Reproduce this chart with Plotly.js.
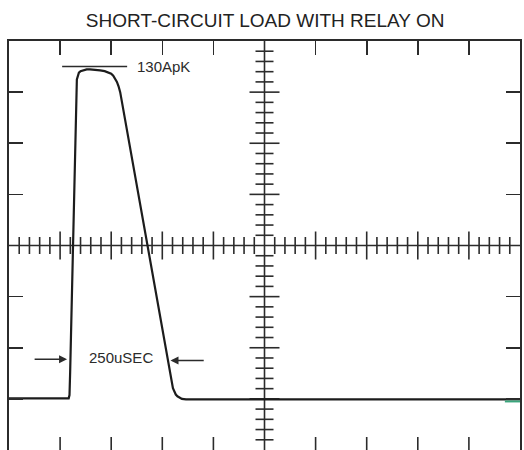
<!DOCTYPE html>
<html><head><meta charset="utf-8">
<script src="https://cdn.plot.ly/plotly-3.0.1.min.js"></script>
<style>html,body{margin:0;padding:0;background:#fff;overflow:hidden}</style>
</head><body><div id="chart" style="width:524px;height:450px"></div>
<script>
// Data (time in microseconds, current in amperes)
const timeUs   = [0, 146, 148, 149.5, 166, 168, 171, 175, 181, 190, 198, 212, 223, 234, 243, 250, 255, 260, 264, 268, 272, 401, 404, 408, 412, 417, 423, 433, 1250];
const currentA = [0.2, 0.2, 1.5, 10, 125, 126.6, 127.6, 128.2, 128.6, 128.9, 128.9, 128.8, 128.5, 128.2, 127.8, 127.2, 126.4, 125.3, 124, 122.3, 120, 4.2, 2.8, 1.7, 1, 0.4, 0, -0.2, -0.2];
const titleText = 'SHORT-CIRCUIT LOAD WITH RELAY ON';
const peakLabel = '130ApK';
const peakA = 130;
const peakMarkTime = [130, 289];
const pulseLabel = '250uSEC';
const pulseEdges = [142, 395];
const timeRange = [0, 1250];
const currentRange = [-20, 140];
const timePerDiv = 125;
const ampsPerDiv = 20;

const ink = '#2b2b2b';
const tCenter = (timeRange[0] + timeRange[1]) / 2;
const aCenter = (currentRange[0] + currentRange[1]) / 2;
const shapes = [];
function seg(o){ shapes.push(Object.assign({type:'line', layer:'below', line:{color:ink, width:1.6}}, o)); }

// center cross
seg({xref:'x', yref:'y', x0:timeRange[0], x1:timeRange[1], y0:aCenter, y1:aCenter});
seg({xref:'x', yref:'y', x0:tCenter, x1:tCenter, y0:currentRange[0], y1:currentRange[1]});
// ticks on horizontal center line
const tSub = timePerDiv / 5;
for (let t = timeRange[0] + tSub; t < timeRange[1] - 1e-6; t += tSub) {
  const major = Math.abs((t / timePerDiv) - Math.round(t / timePerDiv)) < 1e-6;
  if (Math.abs(t - tCenter) < 1e-6) continue;
  const h = major ? 14 : 8.5;
  seg({xref:'x', yref:'y', x0:t, x1:t, ysizemode:'pixel', yanchor:aCenter, y0:-h, y1:h});
}
// ticks on vertical center line
const aSub = ampsPerDiv / 5;
for (let a = currentRange[0] + aSub; a < currentRange[1] - 1e-6; a += aSub) {
  const k = (a - currentRange[0]) / ampsPerDiv;
  const major = Math.abs(k - Math.round(k)) < 1e-6;
  if (Math.abs(a - aCenter) < 1e-6) continue;
  const w = major ? 15 : 9;
  seg({xref:'x', yref:'y', y0:a, y1:a, xsizemode:'pixel', xanchor:tCenter, x0:-w, x1:w});
}
// bottom border ticks
for (let t = timeRange[0] + timePerDiv; t < timeRange[1] - 1e-6; t += timePerDiv) {
  if (Math.abs(t - tCenter) < 1e-6) continue;
  seg({xref:'x', yref:'paper', x0:t, x1:t, ysizemode:'pixel', yanchor:0, y0:0, y1:13});
}
// peak marker line
shapes.push({type:'line', xref:'x', yref:'y', x0:peakMarkTime[0], x1:peakMarkTime[1], y0:peakA, y1:peakA, line:{color:ink, width:1.6}});
// small green scan mark at right edge
shapes.push({type:'line', xref:'x', yref:'y', x0:1213, x1:1250, y0:-1, y1:-1, line:{color:'#3aa57c', width:2}});

const trace = {
  x: timeUs, y: currentA, type:'scatter', mode:'lines',
  line:{color:'#1c1c1c', width:2.2, shape:'linear'},
  hoverinfo:'skip'
};

const labelFont = {family:'"Liberation Sans", Arial, sans-serif', size:15, color:ink};
const annotations = [
  {x:308, y:peakA, xref:'x', yref:'y', text:peakLabel, showarrow:false, xanchor:'left', yanchor:'middle', font:labelFont},
  {x:274, y:16, xref:'x', yref:'y', text:pulseLabel, showarrow:false, xanchor:'center', yanchor:'middle', font:labelFont},
  {x:pulseEdges[0], y:15.5, ax:59, ay:15.5, xref:'x', yref:'y', axref:'x', ayref:'y', text:'', showarrow:true, arrowhead:2, arrowsize:1, arrowwidth:1.6, arrowcolor:ink},
  {x:pulseEdges[1], y:15, ax:480, ay:15, xref:'x', yref:'y', axref:'x', ayref:'y', text:'', showarrow:true, arrowhead:2, arrowsize:1, arrowwidth:1.6, arrowcolor:ink}
];

const layout = {
  width:524, height:450,
  margin:{l:9, r:4, t:41, b:0, pad:0},
  paper_bgcolor:'#fff', plot_bgcolor:'#fff',
  showlegend:false,
  title:{text:titleText, x:0.506, xref:'container', y:0.955, yref:'container', xanchor:'center', yanchor:'middle',
         font:{family:'"Liberation Sans", Arial, sans-serif', size:19, color:'#222'}},
  xaxis:{range:timeRange, side:'top', showline:true, linecolor:ink, linewidth:1.6,
         ticks:'inside', ticklen:14, tickwidth:1.6, tickcolor:ink, tick0:0, dtick:timePerDiv,
         showticklabels:false, showgrid:false, zeroline:false, fixedrange:true},
  yaxis:{range:currentRange, showline:true, mirror:'ticks', linecolor:ink, linewidth:1.6,
         ticks:'inside', ticklen:14, tickwidth:1.6, tickcolor:ink, tick0:currentRange[0], dtick:ampsPerDiv,
         showticklabels:false, showgrid:false, zeroline:false, fixedrange:true},
  shapes:shapes,
  annotations:annotations
};
Plotly.newPlot('chart', [trace], layout, {displayModeBar:false, staticPlot:true});
</script></body></html>
